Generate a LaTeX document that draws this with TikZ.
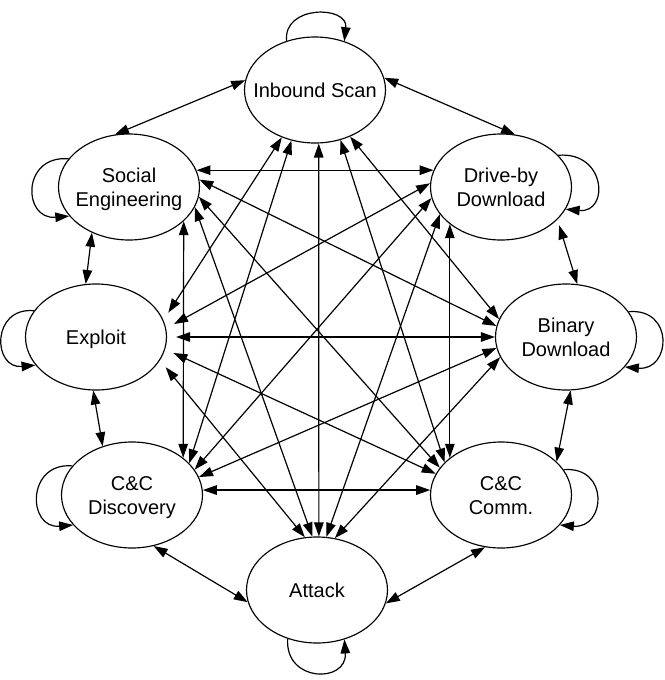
\documentclass[tikz,border=0pt]{standalone}
\usepackage{fontspec}
\setmainfont{Liberation Sans}
\usetikzlibrary{arrows.meta,shapes.geometric}
\newcommand{\ntext}[1]{\makebox[0pt]{\raisebox{-3pt}[\height][\depth]{\begin{tabular}{@{}c@{}}#1\end{tabular}}}}
\begin{document}
\begin{tikzpicture}[x=1pt,y=-1pt,
  st/.style={draw, ellipse, line width=1.15pt, minimum width=141pt, minimum height=106pt,
    inner sep=0pt, font=\fontsize{20}{24}\selectfont},
  link/.style={line width=1.2pt, {Triangle[length=14pt,width=9.5pt]}-{Triangle[length=14pt,width=9.5pt]}},
  self/.style={line width=1.2pt, -{Triangle[length=14pt,width=9.5pt]}},
  exs/.style={shorten <=9pt}]
\path[use as bounding box, fill=white] (0,0) rectangle (664,680);
% nodes
\node[st] (IS) at (315,90)  {\ntext{Inbound Scan}};
\node[st] (SE) at (129,187) {\ntext{Social\\Engineering}};
\node[st] (DD) at (501,187) {\ntext{Drive-by\\Download}};
\node[st] (EX) at (96,337)  {\ntext{Exploit}};
\node[st] (BD) at (566,337) {\ntext{Binary\\Download}};
\node[st] (CD) at (132,495) {\ntext{C\&C\\Discovery}};
\node[st] (CC) at (501,495) {\ntext{C\&C\\Comm.}};
\node[st] (AT) at (317,590) {\ntext{Attack}};
% self loops
\draw[self] (IS.120) .. controls +(-4,-36) and +(4,-36) .. (IS.59);
\draw[self] (SE.155) .. controls +(-47,-4) and +(-47,4) .. (SE.206);
\draw[self] (DD.29) .. controls +(48,-4) and +(44,4) .. (DD.341);
\draw[self] (EX.157) .. controls +(-43,-4) and +(-43,4) .. (EX.205);
\draw[self] (BD.22) .. controls +(46,-4) and +(46,4) .. (BD.333);
\draw[self] (CD.154) .. controls +(-46,-4) and +(-46,4) .. (CD.207);
\draw[self] (CC.22) .. controls +(46,-4) and +(46,4) .. (CC.333);
\draw[self] (AT.239) .. controls +(-3,44) and +(3,44) .. (AT.299);
% perimeter links
\draw[link] (IS.172) -- (SE.105);
\draw[link] (IS.10) -- (DD.75);
\draw[link] (SE.231) -- (EX.101);
\draw[link, shorten <=6pt] (DD.330) -- (BD.78);
\draw[link] (EX.267) -- (CD.121);
\draw[link] (BD.275) -- (CC.31);
\draw[link] (CD.293) -- (AT.190);
\draw[link] (CC.253) -- (AT.349);
% chords
\draw[link] (SE.14) -- (DD.166);
\draw[link] (SE.328) -- (CD.36);
\draw[link] (DD.216) -- (CC.144);
\draw[link, exs] (EX.0) -- (BD.180);
\draw[link] (CD.4) -- (CC.176);
\draw[link] (IS.274) -- (AT.88);
\draw[link, exs] (EX.14) -- (IS.235);
\draw[link] (IS.245) -- (CD.29);
\draw[link] (IS.297) -- (CC.150);
\draw[link] (IS.307) -- (BD.165);
\draw[link] (SE.6) -- (BD.171);
\draw[link] (SE.352) -- (CC.156);
\draw[link] (SE.343) -- (AT.95);
\draw[link, exs] (EX.7) -- (DD.177);
\draw[link] (DD.189) -- (CD.22);
\draw[link] (DD.204) -- (AT.80);
\draw[link, exs] (EX.350) -- (CC.162);
\draw[link, exs] (EX.340) -- (AT.103);
\draw[link] (BD.189) -- (CD.15);
\draw[link] (BD.197) -- (AT.71);
\end{tikzpicture}
\end{document}
